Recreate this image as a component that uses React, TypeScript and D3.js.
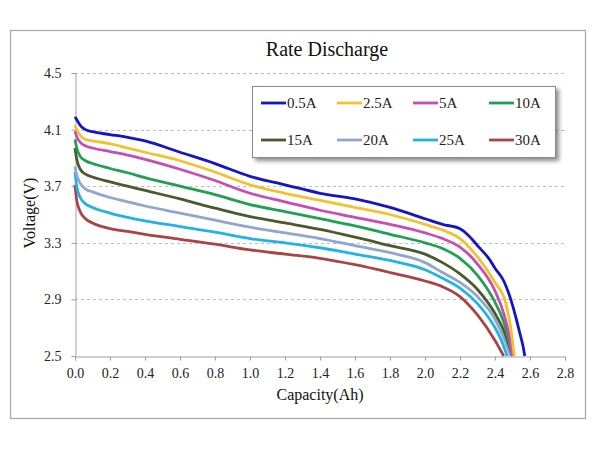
import React, { useEffect, useRef } from "react";
import * as d3 from "d3";

const seriesNames = ["0.5A", "2.5A", "5A", "10A", "15A", "20A", "25A", "30A"];
const seriesColors = ["#1414c8", "#f2c22e", "#c64db5", "#21a052", "#4b5a2c", "#8fa7cf", "#22b3e6", "#a94444"];

const cap05 = [0, 0.01, 0.03, 0.06, 0.1, 0.2, 0.3, 0.4, 0.6, 0.8, 1.0, 1.2, 1.4, 1.6, 1.8, 2.0, 2.1, 2.2, 2.25, 2.3, 2.37, 2.4, 2.45, 2.49, 2.52, 2.54, 2.56, 2.57];
const volt05 = [4.19, 4.17, 4.13, 4.10, 4.085, 4.065, 4.045, 4.02, 3.94, 3.86, 3.77, 3.71, 3.65, 3.61, 3.55, 3.47, 3.43, 3.40, 3.35, 3.28, 3.18, 3.12, 3.03, 2.90, 2.77, 2.67, 2.57, 2.5];

const cap25 = [0, 0.01, 0.03, 0.06, 0.1, 0.2, 0.3, 0.4, 0.6, 0.8, 1.0, 1.2, 1.4, 1.6, 1.8, 2.0, 2.1, 2.2, 2.3, 2.4, 2.46, 2.49, 2.51];
const volt25 = [4.13, 4.10, 4.06, 4.03, 4.02, 4.00, 3.97, 3.94, 3.88, 3.80, 3.71, 3.65, 3.60, 3.55, 3.50, 3.43, 3.39, 3.33, 3.20, 3.02, 2.88, 2.70, 2.5];

const cap5 = [0, 0.01, 0.03, 0.06, 0.1, 0.2, 0.3, 0.4, 0.6, 0.8, 1.0, 1.2, 1.4, 1.6, 1.8, 2.0, 2.1, 2.2, 2.3, 2.4, 2.45, 2.48, 2.5];
const volt5 = [4.09, 4.05, 4.01, 3.985, 3.97, 3.945, 3.92, 3.89, 3.82, 3.74, 3.65, 3.59, 3.53, 3.48, 3.43, 3.37, 3.33, 3.27, 3.15, 2.96, 2.80, 2.65, 2.5];

const cap10 = [0, 0.01, 0.03, 0.06, 0.1, 0.2, 0.3, 0.4, 0.6, 0.8, 1.0, 1.2, 1.4, 1.6, 1.8, 2.0, 2.1, 2.2, 2.3, 2.4, 2.45, 2.5];
const volt10 = [4.03, 3.97, 3.91, 3.88, 3.86, 3.825, 3.795, 3.76, 3.70, 3.64, 3.57, 3.52, 3.47, 3.42, 3.36, 3.30, 3.26, 3.19, 3.07, 2.88, 2.74, 2.5];

const cap15 = [0, 0.01, 0.03, 0.06, 0.1, 0.2, 0.3, 0.4, 0.6, 0.8, 1.0, 1.2, 1.4, 1.6, 1.8, 2.0, 2.1, 2.2, 2.3, 2.4, 2.45, 2.5];
const volt15 = [3.97, 3.89, 3.82, 3.785, 3.765, 3.73, 3.70, 3.67, 3.61, 3.545, 3.485, 3.44, 3.395, 3.34, 3.28, 3.22, 3.16, 3.08, 2.97, 2.80, 2.68, 2.5];

const cap20 = [0, 0.01, 0.03, 0.06, 0.1, 0.2, 0.3, 0.4, 0.6, 0.8, 1.0, 1.2, 1.4, 1.6, 1.8, 2.0, 2.1, 2.2, 2.3, 2.4, 2.45, 2.49];
const volt20 = [3.84, 3.78, 3.72, 3.68, 3.66, 3.62, 3.59, 3.56, 3.51, 3.46, 3.41, 3.37, 3.33, 3.28, 3.23, 3.16, 3.09, 3.02, 2.92, 2.76, 2.63, 2.5];

const cap25A = [0, 0.01, 0.03, 0.06, 0.1, 0.2, 0.3, 0.4, 0.6, 0.8, 1.0, 1.2, 1.4, 1.6, 1.8, 2.0, 2.1, 2.2, 2.3, 2.4, 2.44, 2.47];
const volt25A = [3.80, 3.70, 3.62, 3.575, 3.55, 3.51, 3.48, 3.455, 3.415, 3.375, 3.33, 3.30, 3.265, 3.22, 3.175, 3.11, 3.05, 2.98, 2.87, 2.70, 2.60, 2.5];

const cap30 = [0, 0.01, 0.03, 0.06, 0.1, 0.2, 0.3, 0.4, 0.6, 0.8, 1.0, 1.2, 1.4, 1.6, 1.8, 2.0, 2.1, 2.2, 2.3, 2.4, 2.45];
const volt30 = [3.71, 3.60, 3.52, 3.47, 3.44, 3.40, 3.38, 3.36, 3.325, 3.29, 3.25, 3.22, 3.19, 3.145, 3.09, 3.03, 2.99, 2.92, 2.79, 2.61, 2.5];

const capacities = [cap05, cap25, cap5, cap10, cap15, cap20, cap25A, cap30];
const voltages = [volt05, volt25, volt5, volt10, volt15, volt20, volt25A, volt30];

const xTicks = [0, 0.2, 0.4, 0.6, 0.8, 1.0, 1.2, 1.4, 1.6, 1.8, 2.0, 2.2, 2.4, 2.6, 2.8];
const yTicks = [2.5, 2.9, 3.3, 3.7, 4.1, 4.5];

const title = "Rate Discharge";
const xTitle = "Capacity(Ah)";
const yTitle = "Voltage(V)";

export default function App() {
  const ref = useRef<SVGSVGElement | null>(null);

  useEffect(() => {
    const svg = d3.select(ref.current);
    svg.selectAll("*").remove();
    const font = "'Liberation Serif', 'Times New Roman', serif";

    const x = d3.scaleLinear().domain([0, 2.8]).range([75, 565]);
    const y = d3.scaleLinear().domain([2.5, 4.5]).range([356, 73]);

    const defs = svg.append("defs");
    const f = defs.append("filter").attr("id", "sh").attr("x", "-10%").attr("y", "-10%").attr("width", "130%").attr("height", "140%");
    f.append("feDropShadow").attr("dx", 3).attr("dy", 3).attr("stdDeviation", 2).attr("flood-color", "#000").attr("flood-opacity", 0.45);

    svg.append("rect").attr("x", 0).attr("y", 0).attr("width", 600).attr("height", 450).attr("fill", "#fff");
    svg.append("rect").attr("x", 10.5).attr("y", 30.5).attr("width", 575).attr("height", 388)
      .attr("fill", "#fff").attr("stroke", "#a6a6a6").attr("stroke-width", 1.2);

    // gridlines
    svg.append("g").selectAll("line").data(yTicks.slice(1)).join("line")
      .attr("x1", 75).attr("x2", 565)
      .attr("y1", (d) => Math.round(y(d)) + 0.5).attr("y2", (d) => Math.round(y(d)) + 0.5)
      .attr("stroke", "#bdbdbd").attr("stroke-width", 1).attr("stroke-dasharray", "3,3");

    // axes
    const yAxis = d3.axisLeft(y).tickValues(yTicks).tickFormat(d3.format(".1f")).tickSize(4).tickPadding(10);
    const gy = svg.append("g").attr("transform", "translate(75.5,0)").call(yAxis);
    const xAxis = d3.axisBottom(x).tickValues(xTicks).tickFormat(d3.format(".1f")).tickSize(4).tickPadding(8);
    const gx = svg.append("g").attr("transform", "translate(0,356.5)").call(xAxis);
    [gx, gy].forEach((g) => {
      g.select(".domain").attr("stroke", "#a0a0a0");
      g.selectAll(".tick line").attr("stroke", "#a0a0a0");
      g.selectAll(".tick text").attr("fill", "#222").style("font-family", font).style("font-size", "14px");
    });

    // lines
    const line = d3.line<[number, number]>().x((d) => x(d[0])).y((d) => y(d[1])).curve(d3.curveMonotoneX);
    const order = [7, 6, 5, 4, 3, 2, 1, 0];
    order.forEach((i) => {
      const pts: [number, number][] = capacities[i].map((c, k) => [c, voltages[i][k]]);
      svg.append("path").attr("d", line(pts) as string).attr("fill", "none")
        .attr("stroke", seriesColors[i]).attr("stroke-width", 2.8).attr("stroke-linejoin", "round");
    });

    // titles
    svg.append("text").attr("x", 327).attr("y", 56).attr("text-anchor", "middle")
      .style("font-family", font).style("font-size", "20px").attr("fill", "#111").text(title);
    svg.append("text").attr("x", 320).attr("y", 400).attr("text-anchor", "middle")
      .style("font-family", font).style("font-size", "16px").attr("fill", "#111").text(xTitle);
    svg.append("text").attr("transform", "translate(35,213) rotate(-90)").attr("text-anchor", "middle")
      .style("font-family", font).style("font-size", "16px").attr("fill", "#111").text(yTitle);

    // legend
    const lg = svg.append("g");
    lg.append("rect").attr("x", 252.5).attr("y", 86.5).attr("width", 303).attr("height", 71)
      .attr("fill", "#fff").attr("stroke", "#8a8a8a").attr("stroke-width", 1).attr("filter", "url(#sh)");
    const colX = [261, 337, 413, 489];
    const rowY = [103, 140];
    seriesNames.forEach((name, i) => {
      const cx = colX[i % 4];
      const cy = rowY[Math.floor(i / 4)];
      lg.append("line").attr("x1", cx).attr("x2", cx + 25).attr("y1", cy).attr("y2", cy)
        .attr("stroke", seriesColors[i]).attr("stroke-width", 2.8);
      lg.append("text").attr("x", cx + 26).attr("y", cy + 5)
        .style("font-family", font).style("font-size", "15px").attr("fill", "#222").text(name);
    });
  }, []);

  return (
    <svg ref={ref} width={600} height={450} style={{ position: "absolute", left: 0, top: 0 }} />
  );
}
